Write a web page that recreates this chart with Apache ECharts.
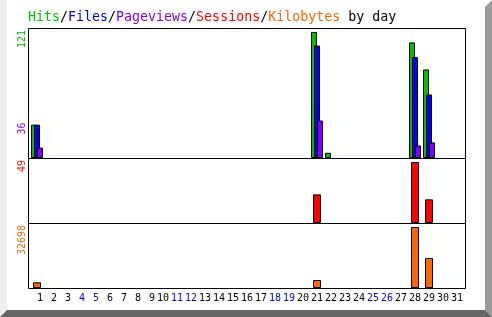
<!DOCTYPE html>
<html><head><meta charset="utf-8">
<script src="https://cdn.jsdelivr.net/npm/echarts@6/dist/echarts.min.js"></script>
<style>html,body{margin:0;padding:0;background:#fff}#c{width:492px;height:317px}</style>
</head><body><div id="c"></div>
<script>
const days = ['1','2','3','4','5','6','7','8','9','10','11','12','13','14','15','16','17','18','19','20','21','22','23','24','25','26','27','28','29','30','31'];
const weekendDays = ['4','5','11','12','18','19','25','26'];
const hits     = [32,0,0,0,0,0,0,0,0,0, 0,0,0,0,0,0,0,0,0,0, 121,5,0,0,0,0,0,111,85,0,0];
const files    = [32,0,0,0,0,0,0,0,0,0, 0,0,0,0,0,0,0,0,0,0, 108,0,0,0,0,0,0,97,61,0,0];
const pages    = [10,0,0,0,0,0,0,0,0,0, 0,0,0,0,0,0,0,0,0,0, 36,0,0,0,0,0,0,12,15,0,0];
const sessions = [0,0,0,0,0,0,0,0,0,0, 0,0,0,0,0,0,0,0,0,0, 23,0,0,0,0,0,0,49,19,0,0];
const kbytes   = [3050,0,0,0,0,0,0,0,0,0, 0,0,0,0,0,0,0,0,0,0, 4288,0,0,0,0,0,0,32698,16080,0,0];

const C = {green:'#00c000', blue:'#0000ff', purple:'#8000ff', red:'#ff0000', orange:'#ff6600'};
const MONO = "'DejaVu Sans Mono', 'Liberation Mono', monospace";
const nz = a => a.map(v => v === 0 ? null : v);

const maxHits = Math.max(...hits), maxPages = Math.max(...pages);
const maxSess = Math.max(...sessions), maxKB = Math.max(...kbytes);
const y1max = maxHits * 130 / 126, y2max = maxSess * 65 / 61, y3max = maxKB * 65 / 61;

const chart = echarts.init(document.getElementById('c'), null, {renderer:'canvas'});
const grids = [
  {left:30, top:28, width:434, height:130},
  {left:30, top:158, width:434, height:65},
  {left:30, top:223, width:434, height:65}
];
const xAxes = grids.map((g,i) => ({
  type:'category', gridIndex:i, data:days, boundaryGap:true,
  axisLine:{show:false}, axisTick:{show:false}, splitLine:{show:false},
  axisLabel: i === 2 ? {
    show:true, interval:0, margin:5, fontFamily:MONO, fontSize:10,
    formatter: v => v.length < 2 ? ' ' + v : v,
    color: (v) => weekendDays.indexOf(String(v).trim()) >= 0 ? C.blue : '#000'
  } : {show:false}
}));
const yAxes = [y1max, y2max, y3max].map((m,i) => ({
  type:'value', gridIndex:i, min:0, max:m, show:false
}));
const barStyle = c => ({color:c, borderColor:'#000', borderWidth:1});
const series = [
  {type:'bar', name:'Hits', xAxisIndex:0, yAxisIndex:0, data:nz(hits), barWidth:6, barGap:'-50%', itemStyle:barStyle(C.green)},
  {type:'bar', name:'Files', xAxisIndex:0, yAxisIndex:0, data:nz(files), barWidth:6, barGap:'-50%', itemStyle:barStyle(C.blue)},
  {type:'bar', name:'Pageviews', xAxisIndex:0, yAxisIndex:0, data:nz(pages), barWidth:6, barGap:'-50%', itemStyle:barStyle(C.purple)},
  {type:'bar', name:'Sessions', xAxisIndex:1, yAxisIndex:1, data:nz(sessions), barWidth:8, itemStyle:barStyle(C.red)},
  {type:'bar', name:'Kilobytes', xAxisIndex:2, yAxisIndex:2, data:nz(kbytes), barWidth:8, itemStyle:barStyle(C.orange)}
];

chart.setOption({
  animation:false,
  backgroundColor:'#fff',
  grid:grids, xAxis:xAxes, yAxis:yAxes, series:series
});

const pagesY = chart.convertToPixel({yAxisIndex:0}, maxPages);
const line = (x1,y1,x2,y2) => ({type:'line', shape:{x1,y1,x2,y2}, style:{stroke:'#000', lineWidth:1}, z:100, silent:true});
const vlabel = (txt, x, y, color) => ({type:'text', x, y, rotation:Math.PI/2, z:100,
  style:{text:txt, fill:color, font:'10px ' + MONO, align:'right', verticalAlign:'middle'}});

chart.setOption({
  graphic:[
    {type:'polygon', shape:{points:[[0,0],[7,0],[7,310],[0,317]]}, style:{fill:'#eeeeee'}, z:1},
    {type:'polygon', shape:{points:[[485,7],[492,0],[492,317],[485,310]]}, style:{fill:'#999999'}, z:1},
    {type:'polygon', shape:{points:[[0,317],[7,310],[485,310],[492,317]]}, style:{fill:'#666666'}, z:1},
    line(28.5,28.5,465.5,28.5),
    line(28.5,158.5,465.5,158.5),
    line(28.5,223.5,465.5,223.5),
    line(28.5,288.5,465.5,288.5),
    line(28.5,28.5,28.5,288.5),
    line(465.5,28.5,465.5,288.5),
    {type:'text', x:28, y:18, z:100, style:{
      text:'{g|Hits}{k|/}{b|Files}{k|/}{p|Pageviews}{k|/}{r|Sessions}{k|/}{o|Kilobytes}{k| by day}',
      font:'13.3px ' + MONO, verticalAlign:'middle', align:'left',
      rich:{
        g:{fill:C.green, font:'13.3px ' + MONO},
        b:{fill:C.blue, font:'13.3px ' + MONO},
        p:{fill:C.purple, font:'13.3px ' + MONO},
        r:{fill:C.red, font:'13.3px ' + MONO},
        o:{fill:C.orange, font:'13.3px ' + MONO},
        k:{fill:'#000', font:'13.3px ' + MONO}
      }
    }},
    vlabel(String(maxHits), 22, 30, C.green),
    vlabel(String(maxPages), 22, pagesY + 2, C.purple),
    vlabel(String(maxSess), 22, 160, C.red),
    vlabel(String(maxKB), 22, 225, C.orange)
  ]
});
</script>
</body></html>
